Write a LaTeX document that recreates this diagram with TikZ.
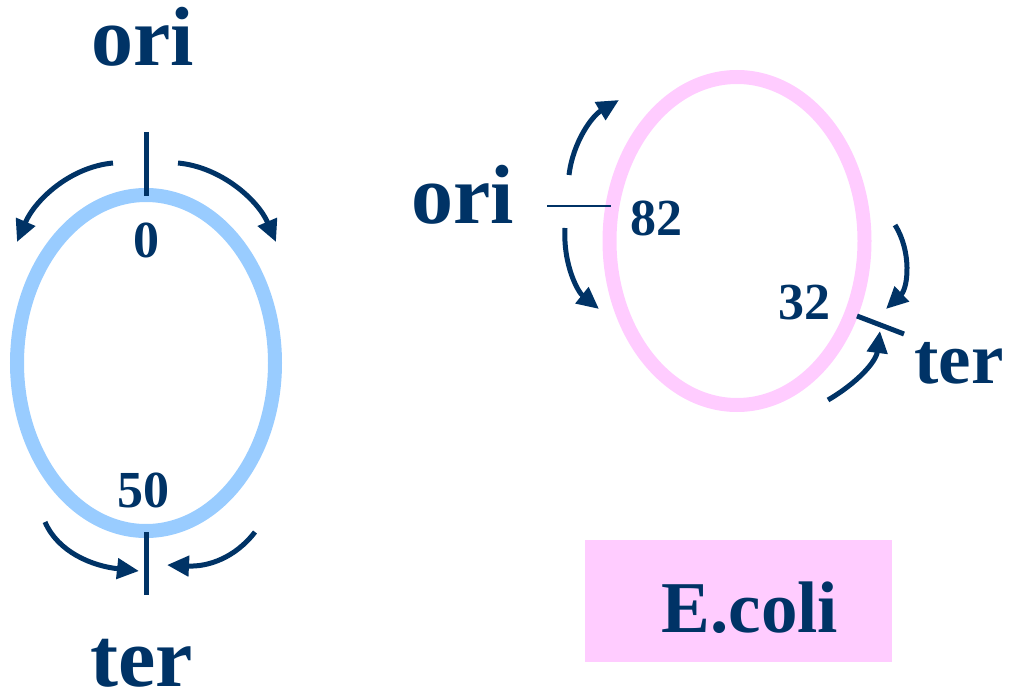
\documentclass[tikz,border=0pt]{standalone}
\usepackage{fontspec}
\setmainfont{Liberation Serif}
\usetikzlibrary{arrows.meta}
\definecolor{navy}{HTML}{003366}
\definecolor{lblue}{HTML}{99CCFF}
\definecolor{lpink}{HTML}{FFCCFF}
\tikzset{
  ring/.style={line width=14pt},
  tick/.style={draw=navy, line width=5pt},
  thintick/.style={draw=navy, line width=2.5pt},
  arr/.style={draw=navy, line width=5pt, -{Triangle[length=22pt,width=20pt]}},
  big/.style={text=navy, font=\bfseries\fontsize{84}{90}\selectfont, anchor=base, inner sep=0pt},
  mid/.style={text=navy, font=\bfseries\fontsize{73}{80}\selectfont, anchor=base, inner sep=0pt},
  num/.style={text=navy, font=\bfseries\fontsize{52}{60}\selectfont, anchor=base, inner sep=0pt},
}
\begin{document}
\begin{tikzpicture}[x=1pt,y=-1pt]
\useasboundingbox (0,0) rectangle (1015,695);
% left circle
\draw[ring, lblue] (146,363) ellipse [x radius=129, y radius=168];
\node[big] (lori) at (143,66) {ori};
\node[big] (lter) at (142,686) {ter};
\node[num] (n0) at (146,258) {0};
\node[num] (n50) at (143,507) {50};
\coordinate (t1a) at (146,132); \coordinate (t1b) at (146,196);
\draw[tick] (t1a) -- (t1b);
\coordinate (t2a) at (146,532); \coordinate (t2b) at (146,595);
\draw[tick] (t2a) -- (t2b);
\coordinate (a1s) at (113,163); \coordinate (a1e) at (17,242);
\draw[arr] (a1s) .. controls (70,167) and (35,200) .. (a1e);
\coordinate (a2s) at (178,163); \coordinate (a2e) at (276,242);
\draw[arr] (a2s) .. controls (221,167) and (258,200) .. (a2e);
\coordinate (a3s) at (45,522); \coordinate (a3e) at (139,571);
\draw[arr] (a3s) .. controls (58,552) and (92,566) .. (a3e);
\coordinate (a4s) at (255,532); \coordinate (a4e) at (167,565);
\draw[arr] (a4s) .. controls (235,558) and (208,567) .. (a4e);
% right circle
\draw[ring, lpink] (737,241) ellipse [x radius=127.5, y radius=164];
\node[big] (rori) at (463,224) {ori};
\node[mid] (rter) at (959,383) {ter};
\node[num] (n82) at (656,236) {82};
\node[num] (n32) at (804,319) {32};
\coordinate (o1) at (547,206); \coordinate (o2) at (611,206);
\draw[thintick] (o1) -- (o2);
\coordinate (r1) at (857,316); \coordinate (r2) at (904,334);
\draw[tick] (r1) -- (r2);
\coordinate (b1s) at (569,175); \coordinate (b1e) at (619,100);
\draw[arr] (b1s) .. controls (573,142) and (592,116) .. (b1e);
\coordinate (b2s) at (565,228); \coordinate (b2e) at (599,309);
\draw[arr] (b2s) .. controls (563,265) and (578,292) .. (b2e);
\coordinate (b3s) at (895,225); \coordinate (b3e) at (886,309);
\draw[arr] (b3s) .. controls (912,252) and (908,288) .. (b3e);
\coordinate (b4s) at (828,400); \coordinate (b4e) at (880,331);
\draw[arr] (b4s) .. controls (857,383) and (876,362) .. (b4e);
% E.coli box
\fill[lpink] (585,540) rectangle (892,662);
\node[mid] (ecoli) at (750,632) {E.coli};
\end{tikzpicture}
\end{document}
